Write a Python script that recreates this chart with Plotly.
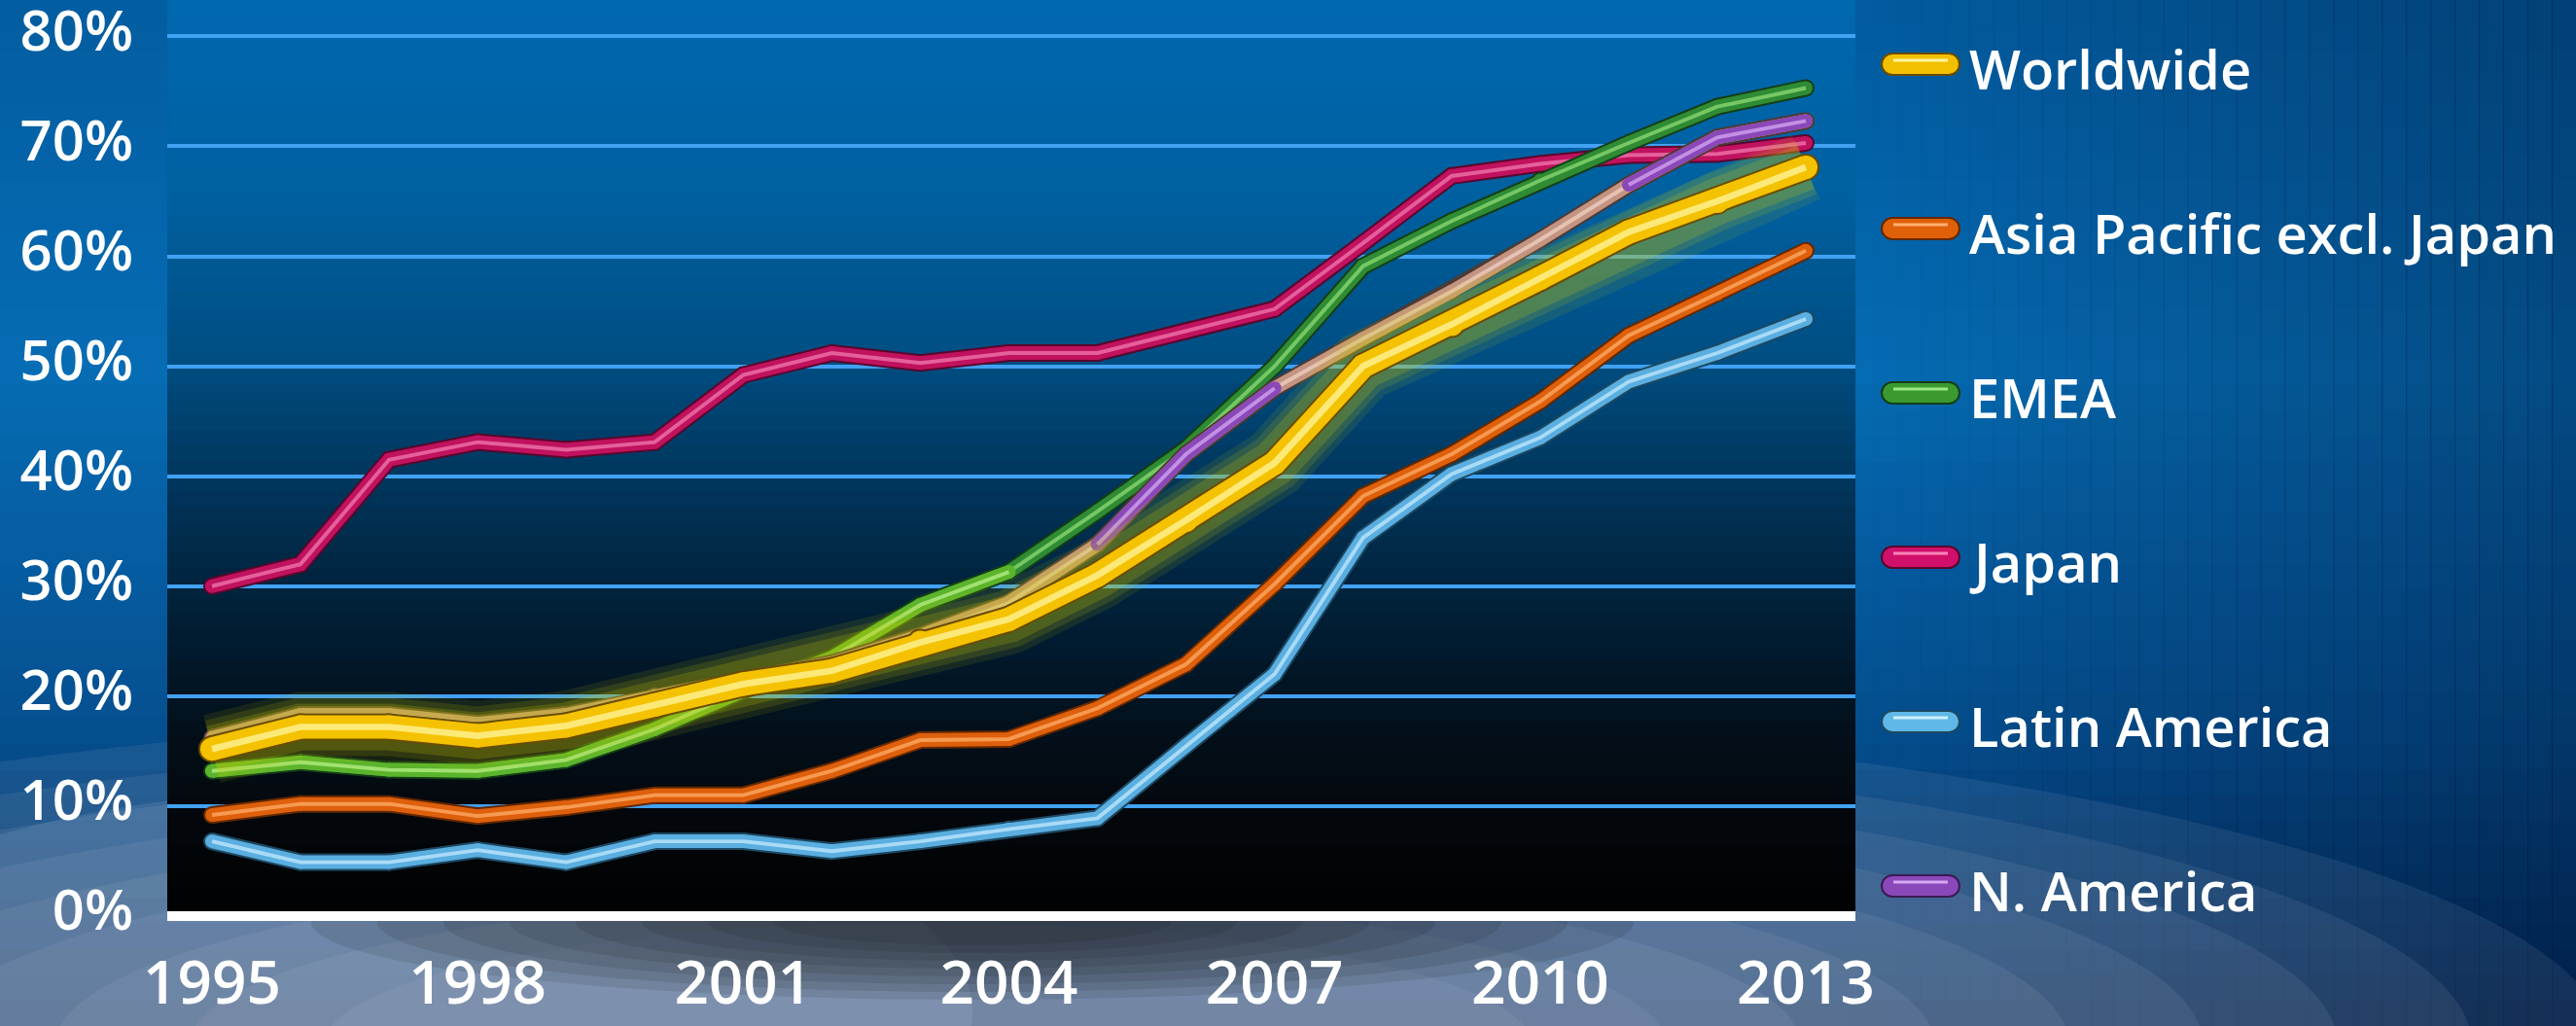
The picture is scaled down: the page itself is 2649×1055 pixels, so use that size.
import plotly.graph_objects as go

# ---- data (share of value, %) ----
years = list(range(1995, 2014))
worldwide = [15.2, 17.2, 17.2, 16.4, 17.3, 19.2, 21.1, 22.3, 24.9, 27.0, 31.0, 36.0, 41.2, 50.0, 53.8, 58.0, 62.2, 65.0, 68.1]
asia_pacific = [9.2, 10.2, 10.2, 9.1, 9.9, 11.0, 11.0, 13.2, 16.0, 16.1, 18.9, 22.9, 30.2, 38.2, 42.0, 46.8, 52.8, 56.6, 60.5]
emea = [13.2, 14.0, 13.3, 13.2, 14.2, 17.0, 20.5, 23.5, 28.3, 31.3, 36.8, 42.5, 50.0, 59.1, 63.2, 66.9, 70.3, 73.6, 75.3]
japan = [30.0, 32.0, 41.5, 43.1, 42.4, 43.1, 49.2, 51.2, 50.3, 51.2, 51.2, 53.2, 55.2, 61.2, 67.3, 68.4, 69.2, 69.3, 70.3]
latin_america = [6.8, 4.9, 4.9, 6.0, 4.9, 6.8, 6.8, 5.9, 6.8, 7.9, 8.9, 15.5, 22.0, 34.4, 40.2, 43.5, 48.6, 51.2, 54.3]
n_america = [16.2, 18.3, 18.3, 17.5, 18.3, 20.0, 21.6, 23.0, 25.5, 28.5, 33.8, 42.0, 48.0, 52.5, 56.8, 61.5, 66.5, 70.8, 72.3]

series_names = ["Worldwide", "Asia Pacific excl. Japan", "EMEA", "Japan", "Latin America", "N. America"]
y_tick_vals = [0, 10, 20, 30, 40, 50, 60, 70, 80]
x_tick_vals = [1995, 1998, 2001, 2004, 2007, 2010, 2013]

# ---- page geometry (pixels) ----
W, H = 2649, 1055
PL, PR, PT, PB = 172, 1908, 0, 947


def fx(X):
    return (X - PL) / (PR - PL)


def fy(Y):
    return (PB - Y) / (PB - PT)


def mix(stops, t):
    for (t0, c0), (t1, c1) in zip(stops, stops[1:]):
        if t <= t1:
            k = (t - t0) / (t1 - t0) if t1 > t0 else 0
            return "rgb(%d,%d,%d)" % tuple(round(a + (b - a) * k) for a, b in zip(c0, c1))
    return "rgb(%d,%d,%d)" % stops[-1][1]


shapes = []


def rect(x0, x1, y0, y1, color):
    shapes.append(dict(type="rect", xref="paper", yref="paper",
                       x0=fx(x0), x1=fx(x1), y0=fy(y1), y1=fy(y0),
                       fillcolor=color, line_width=0, layer="below"))


def ellipse(cx, cy, a, b, color):
    shapes.append(dict(type="circle", xref="paper", yref="paper",
                       x0=fx(cx - a), x1=fx(cx + a), y0=fy(cy + b), y1=fy(cy - b),
                       fillcolor=color, line_width=0, layer="below"))


# page background: vertical blue gradient, darker to the right
page_stops = [(0, (3, 92, 160)), (380, (6, 108, 180)), (760, (5, 78, 142)), (1055, (3, 40, 88))]
n = 40
for i in range(n):
    y0 = H * i / n
    y1 = H * (i + 1) / n + 1
    rect(0, W, y0, min(y1, H), mix(page_stops, (y0 + y1) / 2))
n = 30
for i in range(n):
    x0 = 1900 + (W - 1900) * i / n
    x1 = 1900 + (W - 1900) * (i + 1) / n + 1
    rect(x0, min(x1, W), 0, H, "rgba(0,12,40,%.3f)" % (0.35 * (i + 0.5) / n))

# spotlight rings at the bottom
for i in range(9):
    s = 1 - i * 0.08
    ellipse(954, 1075, 1726 * s, 350 * s, "rgba(185,200,215,0.10)")
ellipse(380, 1040, 620, 230, "rgba(200,215,230,0.12)")
# soft shadow under the plot
for i in range(8):
    s = 1 - i * 0.1
    ellipse(1000, 948, 680 * s, 80 * s, "rgba(20,20,20,0.11)")

# plot area gradient (blue to black)
plot_stops = [(0, (0, 104, 176)), (200, (0, 96, 160)), (370, (0, 78, 130)), (450, (0, 62, 105)),
              (600, (1, 36, 62)), (720, (2, 19, 33)), (830, (4, 8, 13)), (947, (0, 0, 0))]
n = 60
for i in range(n):
    y0 = PB * i / n
    y1 = PB * (i + 1) / n + 1
    rect(PL, PR, y0, min(y1, PB), mix(plot_stops, (y0 + y1) / 2))

fig = go.Figure()


def tube(x, y, color, dark, light, w, outline=True):
    if outline:
        fig.add_trace(go.Scatter(x=x, y=y, mode="lines+markers",
                                 line=dict(color=dark, width=w + 4),
                                 marker=dict(color=dark, size=w + 4),
                                 hoverinfo="skip", showlegend=False))
    fig.add_trace(go.Scatter(x=x, y=y, mode="lines+markers",
                             line=dict(color=color, width=w),
                             marker=dict(color=color, size=w),
                             hoverinfo="skip", showlegend=False))
    fig.add_trace(go.Scatter(x=x, y=y, mode="lines",
                             line=dict(color=light, width=max(3, w * 0.28)),
                             opacity=0.75, hoverinfo="skip", showlegend=False))


tube(years, japan, "#c0125f", "#5a062c", "#f27ab0", 14)
tube(years, emea, "#2f8c34", "#143e16", "#8edc74", 14)
tube(years[:10], emea[:10], "#5cb42c", "#2a5a14", "#b8f08a", 14, outline=False)
tube(years, n_america, "#c49482", "#4e3a34", "#f2d2c4", 14)
tube(years[10:13], n_america[10:13], "#8a48b8", "#3a1a55", "#d6a8f4", 14, outline=False)
tube(years[16:], n_america[16:], "#8a48b8", "#3a1a55", "#d6a8f4", 14, outline=False)
tube(years, asia_pacific, "#de600c", "#642800", "#ffae68", 14)
tube(years, latin_america, "#5aaee0", "#1d4862", "#c4eaff", 14)

# glow around worldwide
for gw, op in [(72, 0.10), (60, 0.14), (48, 0.2)]:
    fig.add_trace(go.Scatter(x=years, y=worldwide, mode="lines",
                             line=dict(color="rgb(205,205,0)", width=gw),
                             opacity=op, hoverinfo="skip", showlegend=False))
tube(years, worldwide, "#f4c200", "#6a4c00", "#fff6a0", 24)

# ---- legend drawn as pills + text ----
legend_style = [
    ("#f2c000", "#6a4c00", "#fff6a0"),
    ("#e0600a", "#642800", "#ffb070"),
    ("#3a9a30", "#143e16", "#9ee884"),
    ("#d0106a", "#5a062c", "#ff86bc"),
    ("#60b8e8", "#1d4862", "#d0f0ff"),
    ("#8a48b8", "#3a1a55", "#d6a8f4"),
]
r, hw = 11, 40
k = r * 0.552
L = hw - r
pill = (f"M{-L},{r} L{L},{r} C{L + k},{r} {hw},{k} {hw},0 C{hw},{-k} {L + k},{-r} {L},{-r} "
        f"L{-L},{-r} C{-L - k},{-r} {-hw},{-k} {-hw},0 C{-hw},{k} {-L - k},{r} {-L},{r} Z")
annotations = []
for i, name in enumerate(series_names):
    yc = 66 + i * 169
    col, dark, light = legend_style[i]
    shapes.append(dict(type="path", xref="paper", yref="paper", xsizemode="pixel", ysizemode="pixel",
                       xanchor=fx(1975), yanchor=fy(yc), path=pill,
                       fillcolor=col, line=dict(color=dark, width=2), layer="above"))
    shapes.append(dict(type="line", xref="paper", yref="paper", xsizemode="pixel", ysizemode="pixel",
                       xanchor=fx(1975), yanchor=fy(yc), x0=-28, x1=28, y0=4, y1=4,
                       line=dict(color=light, width=3), layer="above"))
    annotations.append(dict(text=name, x=fx(2023), y=fy(yc + 4), xref="paper", yref="paper",
                            xanchor="left", yanchor="middle", showarrow=False,
                            font=dict(size=56, color="white", family="Open Sans", weight=600)))

y_font = dict(size=58, color="white", family="Open Sans", weight=600)
x_font = dict(size=62, color="white", family="Open Sans", weight=600)
fig.update_layout(
    width=W, height=H, autosize=False,
    margin=dict(l=PL, r=W - PR, t=PT, b=H - PB, pad=0, autoexpand=False),
    paper_bgcolor="#064f90", plot_bgcolor="rgba(0,0,0,0)",
    showlegend=False,
    font=dict(family="Open Sans", color="white"),
    shapes=shapes,
    annotations=annotations,
    xaxis=dict(range=[1994.495, 2013.56], tickvals=x_tick_vals, ticktext=[str(v) for v in x_tick_vals],
               showgrid=False, zeroline=False, showline=False, ticks="", automargin=False,
               tickfont=x_font, ticklabelstandoff=22, ticklabeloverflow="allow"),
    yaxis=dict(range=[-0.44, 83.3], tickvals=y_tick_vals, ticktext=[f"{v}%" for v in y_tick_vals],
               showgrid=True, gridcolor="#41a1f2", gridwidth=4,
               zeroline=True, zerolinecolor="white", zerolinewidth=10, automargin=False,
               showline=False, ticks="", tickfont=y_font, ticklabelstandoff=34,
               ticklabelshift=-6, ticklabeloverflow="allow"),
)

fig.write_html(
    "out.html", config={"displayModeBar": False},
    post_script="document.body.style.margin='0';document.body.style.overflow='hidden';",
)
